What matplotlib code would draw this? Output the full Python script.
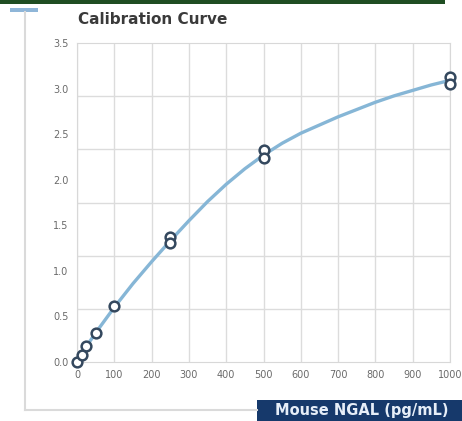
"""Calibration curve - Mouse NGAL ELISA"""

import matplotlib.pyplot as plt
from matplotlib.lines import Line2D
from matplotlib.patches import Rectangle

# standards (pg/mL) and duplicate OD readings
std_conc = [0, 12.5, 25, 50, 100, 250, 250, 500, 500, 1000, 1000]
std_od = [0.0, 0.08, 0.18, 0.32, 0.61, 1.37, 1.31, 2.33, 2.24, 3.13, 3.05]

# fitted curve
curve_conc = [0, 12.5, 25, 50, 75, 100, 150, 200, 250, 300, 350, 400, 450, 500,
              550, 600, 650, 700, 750, 800, 850, 900, 950, 1000]
curve_od = [0.0, 0.08, 0.17, 0.32, 0.46, 0.60, 0.86, 1.10, 1.33, 1.55, 1.76, 1.95,
            2.12, 2.27, 2.40, 2.51, 2.60, 2.69, 2.77, 2.85, 2.92, 2.98, 3.04, 3.09]

x_ticks = [0, 100, 200, 300, 400, 500, 600, 700, 800, 900, 1000]
y_ticks = [0.0, 0.5, 1.0, 1.5, 2.0, 2.5, 3.0, 3.5]

title = 'Calibration Curve'
x_label = 'Mouse NGAL (pg/mL)'

plt.rcParams['font.family'] = ['DejaVu Sans']

fig = plt.figure(figsize=(4.62, 4.21), dpi=100)
W, H = 462, 421


def fx(px):
    return px / W


def fy(py):
    return 1 - py / H


# page decorations around the chart
fig.add_artist(Rectangle((0, fy(4)), fx(445), 4 / H, transform=fig.transFigure,
                         color='#1f4d22', lw=0))
fig.add_artist(Rectangle((fx(10), fy(12)), fx(28), 4 / H, transform=fig.transFigure,
                         color='#8fb6d8', lw=0))
fig.add_artist(Line2D([fx(25), fx(25)], [fy(12), fy(410)], transform=fig.transFigure,
                      color='#dadada', lw=1.5))
fig.add_artist(Line2D([fx(25), fx(257)], [fy(410), fy(410)], transform=fig.transFigure,
                      color='#dadada', lw=1.5))

ax = fig.add_axes([fx(77), fy(362), fx(450 - 77), (362 - 43) / H])
ax.set_xlim(0, 1000)
ax.set_ylim(0, 3.5)

# grid: vertical at each 100, horizontal split into 6 bands
for xv in x_ticks:
    ax.axvline(xv, color='#dcdcdc', lw=1, zorder=0)
for k in range(1, 6):
    ax.axhline(3.5 * k / 6, color='#dcdcdc', lw=1, zorder=0)
for s in ax.spines.values():
    s.set_color('#d8d8d8')

ax.set_xticks(x_ticks)
ax.set_yticks(y_ticks)
ax.set_xticklabels([str(v) for v in x_ticks])
ax.set_yticklabels([f'{v:.1f}' for v in y_ticks])
ax.tick_params(length=0, labelsize=7, colors='#6a6a6a', pad=6)
for lbl in ax.get_xticklabels():
    lbl.set_clip_on(False)

ax.plot(curve_conc, curve_od, color='#86b6d6', lw=2.4, zorder=2, clip_on=False,
        solid_joinstyle='round')
ax.plot(std_conc, std_od, 'o', ms=7, mfc='white', mec='#34485e', mew=1.8,
        zorder=3, clip_on=False)

fig.text(fx(78), fy(20), title, fontsize=11, fontweight='bold', color='#3a3a3a',
         va='center', ha='left')

# axis label in a dark box at bottom right
fig.add_artist(Rectangle((fx(257), 0), fx(W - 257), 21 / H, transform=fig.transFigure,
                         color='#16396b', lw=0))
fig.text(fx(362), fy(411), x_label, fontsize=10.5, fontweight='bold', color='#e6eef8',
         va='center', ha='center')

plt.savefig('out.png', dpi=100)
